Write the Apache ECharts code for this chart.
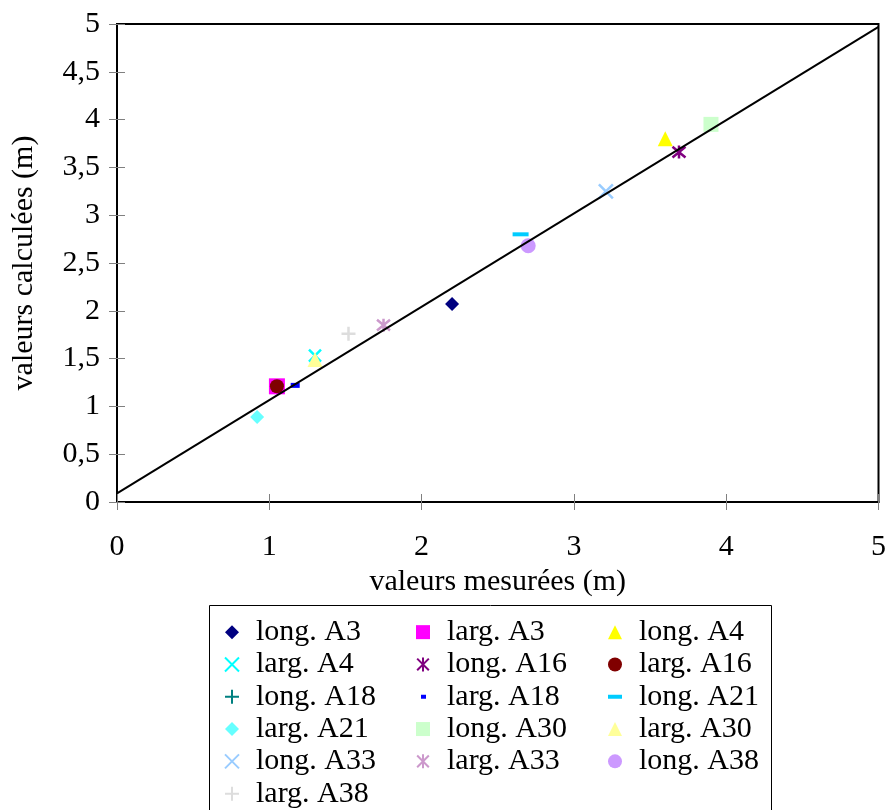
<!DOCTYPE html>
<html><head><meta charset="utf-8">
<script src="https://cdn.jsdelivr.net/npm/echarts@6/dist/echarts.min.js"></script>
<style>html,body{margin:0;padding:0;background:#fff}#c{width:889px;height:810px}</style>
</head><body><div id="c"></div>
<script>
// series names, values [measured, calculated]
const names = ['long. A3','larg. A3','long. A4','larg. A4','long. A16','larg. A16','long. A18','larg. A18','long. A21','larg. A21','long. A30','larg. A30','long. A33','larg. A33','long. A38','larg. A38'];
const measured   = [2.20, 1.05, 3.60, 1.30, 3.69, 1.05, 1.05, 1.17, 2.65, 0.92, 3.90, 1.30, 3.21, 1.75, 2.70, 1.52];
const calculated = [2.07, 1.21, 3.80, 1.53, 3.66, 1.21, 1.21, 1.22, 2.80, 0.89, 3.95, 1.49, 3.25, 1.85, 2.68, 1.76];
const colors = ['#000080','#FF00FF','#FFFF00','#00FFFF','#800080','#800000','#008080','#0000FF','#00CCFF','#66FFFF','#CCFFCC','#FFFF99','#99CCFF','#CC99CC','#CC99FF','#DDDDDD'];
const fitLine = [[0, 0.09], [5, 4.97]];
const xTicks = ['0','1','2','3','4','5'];

const X = 'path://M0,0L10,10M10,0L0,10';
const AST = 'path://M0,0L10,10M10,0L0,10M5,-1L5,11';
const PLUS = 'path://M5,0L5,10M0,5L10,5';
const symbols = ['diamond','rect','triangle',X,AST,'circle',PLUS,'rect','rect','diamond','rect','triangle',X,AST,'circle',PLUS];
const sizes = [14,16,15,12,13,14,12,[9,5],[16,4],14,15,15,14,13,15,14];
const stroked = [false,false,false,true,true,false,true,false,false,false,false,false,true,true,false,true];
const zOrder = [3,3,3,3,3,4,1,3,3,3,3,3,3,3,3,3];
const legendIcons = {
  'larg. A18': 'path://M0,0L0,0M14,14L14,14M5,5L10,5L10,9L5,9Z',
  'long. A21': 'path://M0,0L0,0M14,14L14,14M0,5L14,5L14,9L0,9Z'
};

const series = names.map((n, i) => ({
  name: n, type: 'scatter',
  data: [[measured[i], calculated[i]]],
  symbol: symbols[i], symbolSize: sizes[i],
  itemStyle: stroked[i] ? {color: colors[i], borderColor: colors[i], borderWidth: 2.5, opacity: 1} : {color: colors[i], opacity: 1},
  emphasis: {disabled: true}, z: zOrder[i]
}));
series.push({
  type: 'line', data: fitLine, symbol: 'none', silent: true,
  lineStyle: {color: '#000', width: 2}, z: 5
});

const cols = [[0,3,6,9,12,15],[1,4,7,10,13],[2,5,8,11,14]];
const colLeft = [224, 416, 608];
const legends = cols.map((c, k) => ({
  orient: 'vertical', left: colLeft[k], top: 616, padding: 0, itemGap: 0,
  itemWidth: 14, itemHeight: 14, selectedMode: false,
  textStyle: {fontFamily: 'Liberation Serif', fontSize: 30, color: '#000', lineHeight: 32.3, padding: [0,0,0,12]},
  data: c.map(i => legendIcons[names[i]] ? {name: names[i], icon: legendIcons[names[i]]} : {name: names[i]})
}));

const font = {fontFamily: 'Liberation Serif', fontSize: 30, color: '#000'};
const chart = echarts.init(document.getElementById('c'));
chart.setOption({
  animation: false,
  grid: {left: 117, right: 8, top: 24, height: 478, show: true, borderColor: '#000', borderWidth: 2, backgroundColor: 'transparent'},
  legend: legends,
  graphic: [{type: 'rect', shape: {x: 209.5, y: 605.5, width: 562, height: 220}, style: {fill: 'none', stroke: '#000', lineWidth: 1}, z: -1}],
  xAxis: [{
    type: 'value', min: 0, max: 5, interval: 1,
    axisLine: {lineStyle: {color: '#000', width: 2}},
    axisTick: {show: true, length: 8, lineStyle: {color: '#808080'}},
    splitLine: {show: false},
    axisLabel: Object.assign({margin: 30, formatter: v => xTicks[Math.round(v)]}, font),
    name: 'valeurs mesurées (m)', nameLocation: 'middle', nameGap: 60,
    nameTextStyle: font
  }, {
    type: 'value', min: 0, max: 5, interval: 1, position: 'bottom',
    axisLine: {show: false}, axisLabel: {show: false}, splitLine: {show: false},
    axisTick: {show: true, inside: true, length: 8, lineStyle: {color: '#808080'}}
  }],
  yAxis: [{
    type: 'value', min: 0, max: 5, interval: 0.5,
    axisLine: {lineStyle: {color: '#000', width: 2}},
    axisTick: {show: true, length: 8, lineStyle: {color: '#808080'}},
    splitLine: {show: false},
    axisLabel: Object.assign({margin: 17, formatter: v => String(v).replace('.', ',')}, font),
    name: 'valeurs calculées (m)', nameLocation: 'middle', nameGap: 78,
    nameTextStyle: font
  }, {
    type: 'value', min: 0, max: 5, interval: 0.5, position: 'left',
    axisLine: {show: false}, axisLabel: {show: false}, splitLine: {show: false},
    axisTick: {show: true, inside: true, length: 8, lineStyle: {color: '#808080'}}
  }],
  series: series
});
</script></body></html>
